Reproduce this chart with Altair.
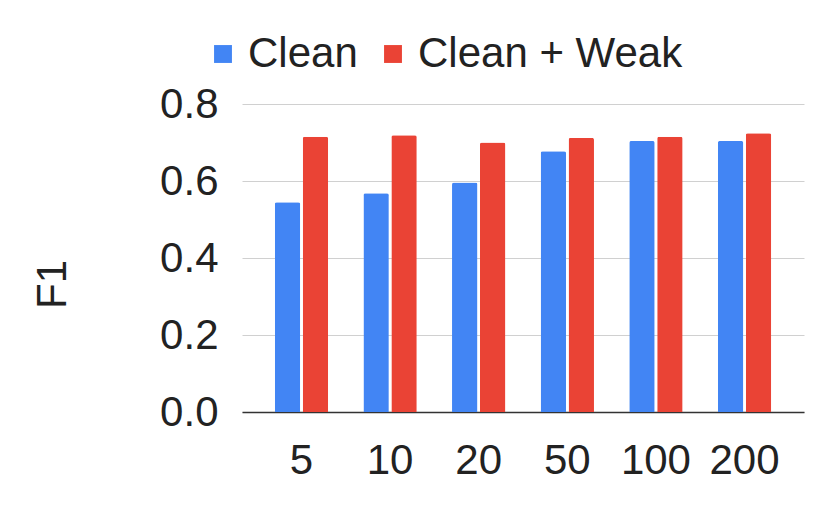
import altair as alt
import pandas as pd

categories = ["5", "10", "20", "50", "100", "200"]
clean = [0.545, 0.568, 0.596, 0.677, 0.704, 0.704]
clean_weak = [0.715, 0.719, 0.700, 0.712, 0.715, 0.724]
series = ["Clean", "Clean + Weak"]
colors = ["#4285F4", "#EA4335"]
y_ticks = [0.0, 0.2, 0.4, 0.6, 0.8]

rows = []
for c, a, b in zip(categories, clean, clean_weak):
    rows.append({"cat": c, "series": series[0], "value": a})
    rows.append({"cat": c, "series": series[1], "value": b})
df = pd.DataFrame(rows)

FONT = "Liberation Sans"

chart = alt.Chart(df).mark_bar(
    cornerRadiusTopLeft=2, cornerRadiusTopRight=2
).encode(
    x=alt.X("cat:N", sort=categories,
            scale=alt.Scale(paddingInner=0.398, paddingOuter=0.37),
            axis=alt.Axis(title=None, labelAngle=0, ticks=False, grid=False,
                          domain=True, domainColor="#333333", domainWidth=1.5,
                          labelFontSize=42, labelFont=FONT, labelColor="#222222",
                          labelPadding=28)),
    xOffset=alt.XOffset("series:N", sort=series,
                        scale=alt.Scale(paddingInner=0.09, paddingOuter=0)),
    y=alt.Y("value:Q",
            scale=alt.Scale(domain=[0, 0.8], nice=False),
            axis=alt.Axis(title="F1", values=y_ticks, format=".1f",
                          domain=False, ticks=False, grid=True,
                          gridColor="#d0d0d0", gridWidth=1,
                          labelFontSize=42, labelFont=FONT, labelColor="#222222",
                          labelPadding=24,
                          titleFontSize=42, titleFont=FONT, titleColor="#222222",
                          titleFontWeight="normal", titleAngle=-90,
                          titleAlign="center", titleBaseline="alphabetic",
                          titleX=-177, titleY=180)),
    color=alt.Color("series:N", sort=series,
                    scale=alt.Scale(domain=series, range=colors),
                    legend=alt.Legend(title=None, orient="none",
                                      legendX=-40, legendY=-71,
                                      direction="horizontal",
                                      symbolType="square", symbolSize=320,
                                      symbolStrokeWidth=0,
                                      labelFontSize=42, labelFont=FONT,
                                      labelColor="#222222", labelOffset=4,
                                      columnPadding=14, padding=0,
                                      labelLimit=400)),
).properties(
    width=562, height=308,
    autosize="none",
    padding={"left": 234, "top": 96, "right": 18, "bottom": 93},
).configure_view(stroke=None)

chart.save("out.html", embed_options={"renderer": "svg", "actions": False})
